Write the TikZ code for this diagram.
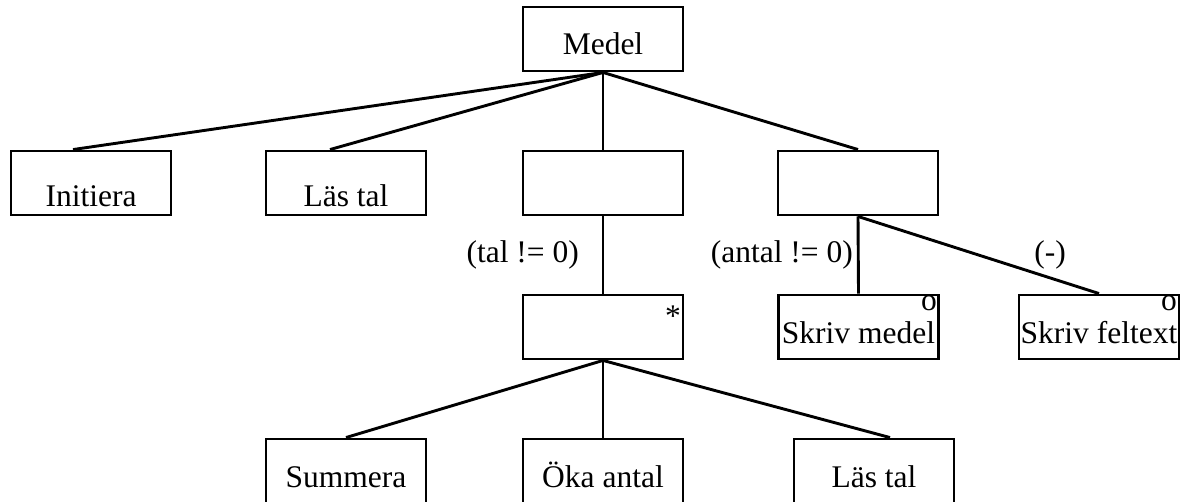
\documentclass[tikz,border=0pt]{standalone}
\usepackage{fontspec}
\setmainfont{Liberation Serif}
\begin{document}
\begin{tikzpicture}[x=1pt,y=-1pt,
  every node/.style={font=\fontsize{31.5}{36}\selectfont},
  box/.style={draw,line width=2.9pt,minimum width=160pt,inner sep=0pt,text height=48pt,text depth=16pt},
  boxlow/.style={box,text height=56pt,text depth=8pt},
  lbl/.style={inner sep=0pt},
  conn/.style={line width=2.9pt}]
\useasboundingbox (0,0) rectangle (1182,502);
% level 0
\node[box] (medel) at (603,39) {Medel};
% level 1
\node[boxlow] (init) at (91,183) {Initiera};
\node[boxlow] (las1) at (346,183) {Läs tal};
\node[box] (iter) at (603,183) {};
\node[box] (sel) at (858,183) {};
% level 2
\node[box] (loop) at (603,327) {};
\node[box] (skrm) at (858.5,327) {Skriv medel};
\node[box] (skrf) at (1099,327) {Skriv feltext};
% level 3
\node[box] (summ) at (346,471) {Summera};
\node[box] (oka) at (603,471) {Öka antal};
\node[box] (las2) at (874,471) {Läs tal};
% markers
\node[lbl,anchor=north east] (star) at (681,306) {*};
\node[lbl,anchor=base east] (o1) at (937,311) {o};
\node[lbl,anchor=base east] (o2) at (1177,311) {o};
% conditions
\node[lbl,anchor=base east] (c1) at (579,263) {(tal != 0)};
\node[lbl,anchor=base east] (c2) at (853,263) {(antal != 0)};
\node[lbl,anchor=base] (c3) at (1050,263) {(-)};
% connectors
\draw[conn] (medel.south) -- ([xshift=-18pt]init.north);
\draw[conn] (medel.south) -- ([xshift=-16pt]las1.north);
\draw[conn] (medel.south) -- (iter.north);
\draw[conn] (medel.south) -- (sel.north);
\draw[conn] (iter.south) -- (loop.north);
\draw[conn] (sel.south) -- (skrm.north);
\draw[conn] (sel.south) -- (skrf.north);
\draw[conn] (loop.south) -- (summ.north);
\draw[conn] (loop.south) -- (oka.north);
\draw[conn] (loop.south) -- ([xshift=16pt]las2.north);
\end{tikzpicture}
\end{document}
